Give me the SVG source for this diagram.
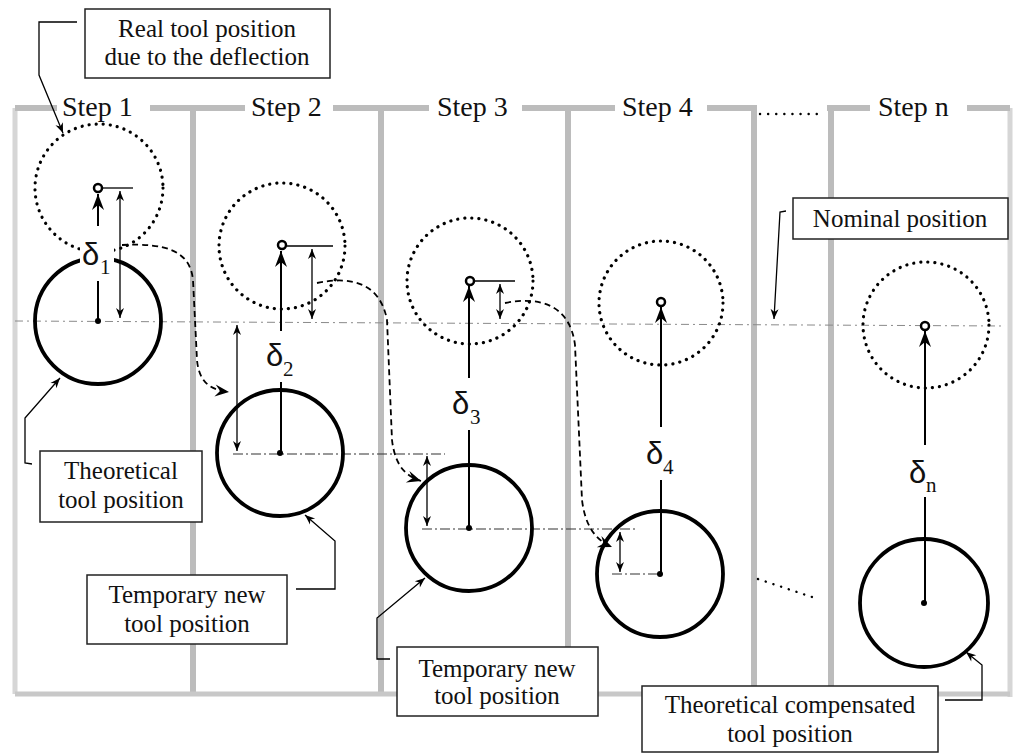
<svg xmlns="http://www.w3.org/2000/svg" width="1015" height="753" viewBox="0 0 1015 753">
<defs>
<style>
.frame{stroke:#bcbcbc;stroke-width:6;fill:none}
.frameL{stroke:#d6d6d6;stroke-width:5;fill:none}
.nominal{stroke:#8a8a8a;stroke-width:1;stroke-dasharray:8 4 2 4;fill:none}
.ref{stroke:#333;stroke-width:1.2;stroke-dasharray:10 3 2 3;fill:none}
.solid{stroke:#000;stroke-width:3.8;fill:none}
.dotted{stroke:#000;stroke-width:3.2;stroke-dasharray:0.1 7;stroke-linecap:round;fill:none}
.marker{stroke:#000;stroke-width:2.5;fill:#fff}
.delta{stroke:#000;stroke-width:2;fill:none}
.thin{stroke:#000;stroke-width:1.3;fill:none}
.dash{stroke:#000;stroke-width:1.8;stroke-dasharray:6 4;fill:none}
.dots{stroke:#000;stroke-width:2.4;stroke-dasharray:0.1 8;stroke-linecap:round;fill:none}
.box{fill:#fff;stroke:#222;stroke-width:1.5}
.lbl{font-family:"Liberation Serif",serif;font-size:25px;fill:#111;text-anchor:middle}
.step{font-family:"Liberation Serif",serif;font-size:28px;fill:#111}
.dsym{font-family:"Liberation Sans",sans-serif;font-size:31px;fill:#111}
.dsub{font-family:"Liberation Serif",serif;font-size:21px;fill:#111}
</style>
<marker id="big" markerUnits="userSpaceOnUse" markerWidth="20" markerHeight="16" viewBox="-18 -8 20 16" refX="0" refY="0" orient="auto"><path d="M0,0 L-16,-6 L-11,0 L-16,6 Z" fill="#000"/></marker>
<marker id="sm" markerUnits="userSpaceOnUse" markerWidth="12" markerHeight="10" viewBox="-11 -5 12 10" refX="0" refY="0" orient="auto-start-reverse"><path d="M0,0 L-10,-4 L-7,0 L-10,4 Z" fill="#000"/></marker>
<marker id="mid" markerUnits="userSpaceOnUse" markerWidth="16" markerHeight="14" viewBox="-15 -7 16 14" refX="0" refY="0" orient="auto"><path d="M0,0 L-14,-6 L-9,0 L-14,6 Z" fill="#000"/></marker>
</defs>
<g id="frame">
<path class="frameL" d="M15,108 V694 M1010,108 V697"/>
<path class="frame" d="M15,108 H57 M150,108 H245 M333,108 H429 M522,108 H615 M707,108 H757 M827,108 H870 M967,108 H1010"/>
<path class="frame" d="M193,108 V694 M381,108 V694 M568,108 V694 M754,108 V694 M831,108 V694"/>
<path class="frameL" style="stroke:#c8c8c8" d="M15,694 H1010"/>
<path class="nominal" d="M15,321 L1005,326"/>
<path class="dots" d="M760,114 H823 M758,579 L818,599"/>
</g>
<g id="step-labels">
<text class="step" x="62" y="116">Step 1</text>
<text class="step" x="251" y="116">Step 2</text>
<text class="step" x="437" y="116">Step 3</text>
<text class="step" x="622" y="116">Step 4</text>
<text class="step" x="878" y="116">Step n</text>
</g>
<g id="references">
<path class="ref" d="M233,454 H445 M422,529 H635 M612,574 H660"/>
</g>
<g id="step1">
<circle class="dotted" cx="99" cy="188" r="64"/>
<circle class="solid" cx="98" cy="321" r="63"/>
<circle cx="98" cy="321" r="3" fill="#000"/>
<rect x="80" y="238" width="34" height="38" fill="#fff"/>
<path class="delta" d="M98,321 V281"/>
<path class="delta" d="M98,226 V194" marker-end="url(#big)"/>
<circle class="marker" cx="98" cy="188" r="4"/>
<path class="thin" d="M103,188 H133"/>
<path class="thin" d="M120,191 V318" marker-start="url(#sm)" marker-end="url(#sm)"/>
<text class="dsym" x="82" y="265">δ</text><text class="dsub" x="100" y="274">1</text>
</g>
<g id="step2">
<circle class="dotted" cx="282" cy="246" r="63"/>
<circle class="solid" cx="280" cy="453" r="63"/>
<circle cx="280" cy="453" r="3" fill="#000"/>
<path class="delta" d="M281,453 V382"/>
<path class="delta" d="M281,331 V251" marker-end="url(#big)"/>
<circle class="marker" cx="282" cy="245" r="4"/>
<path class="thin" d="M287,246 H333"/>
<path class="thin" d="M312,249 V319" marker-start="url(#sm)" marker-end="url(#sm)"/>
<path class="thin" d="M237,325 V451" marker-start="url(#sm)" marker-end="url(#sm)"/>
<text class="dsym" x="266" y="366">δ</text><text class="dsub" x="283" y="376">2</text>
</g>
<g id="step3">
<circle class="dotted" cx="470" cy="281" r="63"/>
<circle class="solid" cx="469" cy="528" r="63"/>
<circle cx="469" cy="528" r="3" fill="#000"/>
<path class="delta" d="M469,528 V430"/>
<path class="delta" d="M469,378 V286" marker-end="url(#big)"/>
<circle class="marker" cx="470" cy="281" r="4"/>
<path class="thin" d="M475,281 H515"/>
<path class="thin" d="M500,284 V319" marker-start="url(#sm)" marker-end="url(#sm)"/>
<path class="thin" d="M427,456 V526" marker-start="url(#sm)" marker-end="url(#sm)"/>
<text class="dsym" x="452" y="414">δ</text><text class="dsub" x="470" y="424">3</text>
</g>
<g id="step4">
<circle class="dotted" cx="661" cy="303" r="62"/>
<circle class="solid" cx="660" cy="574" r="63"/>
<circle cx="660" cy="574" r="3" fill="#000"/>
<path class="delta" d="M661,574 V480"/>
<path class="delta" d="M661,427 V307" marker-end="url(#big)"/>
<circle class="marker" cx="661" cy="302" r="4"/>
<path class="thin" d="M620,532 V572" marker-start="url(#sm)" marker-end="url(#sm)"/>
<text class="dsym" x="646" y="464">δ</text><text class="dsub" x="663" y="474">4</text>
</g>
<g id="stepn">
<circle class="dotted" cx="926" cy="325" r="63"/>
<circle class="solid" cx="924" cy="603" r="64"/>
<circle cx="924" cy="603" r="3" fill="#000"/>
<path class="delta" d="M925,603 V497"/>
<path class="delta" d="M925,445 V331" marker-end="url(#big)"/>
<circle class="marker" cx="925" cy="326" r="4"/>
<text class="dsym" x="909" y="483">δ</text><text class="dsub" x="926" y="492">n</text>
</g>
<g id="connectors">
<path class="dash" d="M122,245 C165,243 190,250 193,280 L197,360 C199,382 210,390 229,392" marker-end="url(#mid)"/>
<path class="dash" d="M317,283 C350,276 380,282 387,320 L392,440 C395,465 405,476 421,481" marker-end="url(#mid)"/>
<path class="dash" d="M505,303 C540,296 570,305 575,345 L582,500 C585,525 595,540 612,547" marker-end="url(#mid)"/>
<path class="thin" d="M77,22 H39 V75 L63,133" marker-end="url(#sm)"/>
<path class="thin" d="M786,211 L780,212 L774,319" marker-end="url(#sm)"/>
<path class="thin" d="M32,464 L25,463 V418 L60,378" marker-end="url(#sm)"/>
<path class="thin" d="M296,589 H335 V541 L305,515" marker-end="url(#sm)"/>
<path class="thin" d="M390,659 H377 V618 L425,578" marker-end="url(#sm)"/>
<path class="thin" d="M945,700 H982 V665 L966,652" marker-end="url(#sm)"/>
</g>
<g id="label-real">
<rect class="box" x="85" y="9" width="245" height="69"/>
<text class="lbl" x="207" y="37">Real tool position</text>
<text class="lbl" x="207" y="65">due to the deflection</text>
</g>
<g id="label-nominal">
<rect class="box" x="793" y="198" width="215" height="41"/>
<text class="lbl" x="900" y="227">Nominal position</text>
</g>
<g id="label-theoretical">
<rect class="box" x="40" y="451" width="162" height="71"/>
<text class="lbl" x="121" y="479">Theoretical</text>
<text class="lbl" x="121" y="508">tool position</text>
</g>
<g id="label-temp1">
<rect class="box" x="87" y="575" width="200" height="69"/>
<text class="lbl" x="187" y="603">Temporary new</text>
<text class="lbl" x="187" y="632">tool position</text>
</g>
<g id="label-temp2">
<rect class="box" x="397" y="647" width="201" height="69"/>
<text class="lbl" x="497" y="677">Temporary new</text>
<text class="lbl" x="497" y="704">tool position</text>
</g>
<g id="label-comp">
<rect class="box" x="642" y="686" width="296" height="66"/>
<text class="lbl" x="790" y="713">Theoretical compensated</text>
<text class="lbl" x="790" y="742">tool position</text>
</g>
</svg>
